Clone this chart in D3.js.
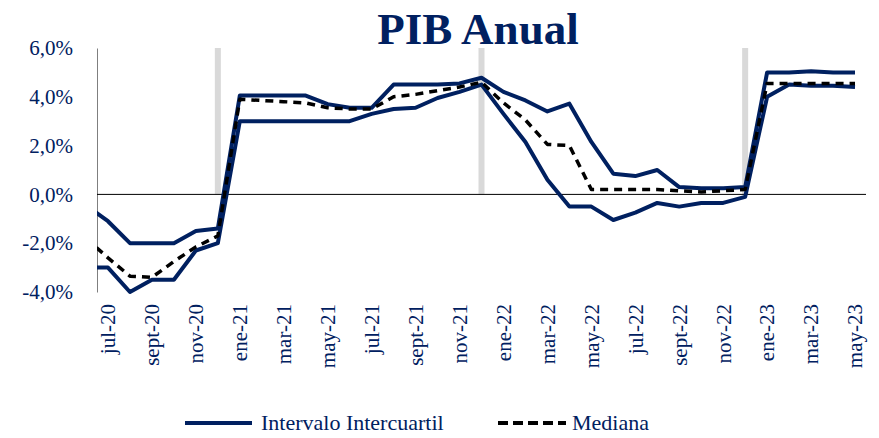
<!DOCTYPE html>
<html>
<head>
<meta charset="utf-8">
<script src="https://cdn.jsdelivr.net/npm/d3@7"></script>
<style>
  body { margin: 0; background: #fff; }
  svg { font-family: "Liberation Serif", "DejaVu Serif", serif; }
  .tick text { fill: #002060; }
</style>
</head>
<body>
<script>
// meses (jun-20 queda fuera del area, solo para el primer tramo recortado)
var months = ["jun-20","jul-20","ago-20","sept-20","oct-20","nov-20","dic-20",
  "ene-21","feb-21","mar-21","abr-21","may-21","jun-21","jul-21","ago-21","sept-21","oct-21","nov-21","dic-21",
  "ene-22","feb-22","mar-22","abr-22","may-22","jun-22","jul-22","ago-22","sept-22","oct-22","nov-22","dic-22",
  "ene-23","feb-23","mar-23","abr-23","may-23"];

var q3 = [-0.45,-1.1,-2.0,-2.0,-2.0,-1.5,-1.4,
  4.05,4.05,4.05,4.05,3.7,3.55,3.55,4.5,4.5,4.5,4.55,4.78,
  4.2,3.85,3.4,3.72,2.15,0.85,0.75,1.0,0.3,0.25,0.25,0.3,
  5.0,5.0,5.05,5.0,5.0];

var q1 = [-3.0,-3.0,-4.0,-3.5,-3.5,-2.3,-2.0,
  3.0,3.0,3.0,3.0,3.0,3.0,3.3,3.5,3.55,3.95,4.2,4.5,
  3.3,2.15,0.6,-0.5,-0.5,-1.05,-0.75,-0.35,-0.5,-0.35,-0.35,-0.1,
  4.0,4.5,4.45,4.45,4.4];

var mediana = [-1.8,-2.6,-3.35,-3.4,-2.75,-2.15,-1.7,
  3.9,3.85,3.8,3.75,3.55,3.5,3.5,4.0,4.1,4.25,4.4,4.6,
  3.75,3.05,2.05,2.0,0.2,0.2,0.2,0.2,0.15,0.1,0.15,0.2,
  4.55,4.55,4.55,4.55,4.55];

var marcas = ["dic-20","dic-21","dic-22"];
var yTicks = [-4, -2, 0, 2, 4, 6];
var xLabels = ["jul-20","sept-20","nov-20","ene-21","mar-21","may-21","jul-21","sept-21","nov-21",
  "ene-22","mar-22","may-22","jul-22","sept-22","nov-22","ene-23","mar-23","may-23"];

(function() {
var width = 879, height = 438;
var margin = {left: 97, right: 866, top: 48, bottom: 292};

var svg = d3.select("body").append("svg")
  .attr("width", width).attr("height", height);

var bw = (margin.right - margin.left) / (months.length - 1);
var x = d3.scaleBand()
  .domain(months)
  .range([margin.left - bw, margin.right]);

var cx = function(m) { return x(m) + x.bandwidth() / 2; };

var y = d3.scaleLinear()
  .domain([-4, 6])
  .range([margin.bottom, margin.top]);

svg.append("defs").append("clipPath").attr("id", "plot")
  .append("rect").attr("x", margin.left).attr("y", 0)
  .attr("width", margin.right - margin.left).attr("height", height);

// titulo
svg.append("text")
  .attr("x", 478).attr("y", 44)
  .attr("text-anchor", "middle")
  .style("font-size", "45px").style("font-weight", "bold")
  .style("fill", "#002060")
  .text("PIB Anual");

// barras grises
svg.selectAll(".marca").data(marcas)
  .enter().append("rect")
  .attr("class", "marca")
  .attr("x", function(d) { return cx(d) - 3; })
  .attr("y", y(6))
  .attr("width", 6)
  .attr("height", y(0) - y(6))
  .style("fill", "#d9d9d9");

// eje y
var yAxis = d3.axisLeft(y).tickValues(yTicks).tickSize(0).tickPadding(24)
  .tickFormat(function(d) { return (d < 0 ? "-" : "") + Math.abs(d).toFixed(1).replace(".", ",") + "%"; });
var gy = svg.append("g").attr("transform", "translate(" + margin.left + ",0)").call(yAxis)
  .attr("font-family", null).attr("font-size", null);
gy.select(".domain").attr("stroke", "#7f7f7f");
gy.selectAll("text").style("font-size", "21px");

// linea cero
svg.append("line")
  .attr("x1", margin.left).attr("x2", margin.right)
  .attr("y1", y(0)).attr("y2", y(0))
  .attr("stroke", "#000").attr("stroke-width", 1);

// eje x (solo etiquetas)
var xAxis = d3.axisBottom(x).tickValues(xLabels).tickSize(0);
var gx = svg.append("g").attr("transform", "translate(0," + (margin.bottom + 12) + ")").call(xAxis)
  .attr("font-family", null).attr("font-size", null);
gx.select(".domain").remove();
gx.selectAll("text")
  .style("font-size", "21px")
  .attr("transform", "rotate(-90)")
  .attr("text-anchor", "end")
  .attr("x", 0).attr("y", 0).attr("dy", "0.35em");

var line = function(vals) {
  return d3.line()
    .x(function(d, i) { return cx(months[i]); })
    .y(function(d) { return y(d); })(vals);
};

var plot = svg.append("g").attr("clip-path", "url(#plot)");

[q3, q1].forEach(function(s) {
  plot.append("path")
    .attr("d", line(s))
    .attr("fill", "none")
    .attr("stroke", "#002060")
    .attr("stroke-width", 4)
    .attr("stroke-linejoin", "round");
});

plot.append("path")
  .attr("d", line(mediana))
  .attr("fill", "none")
  .attr("stroke", "#000")
  .attr("stroke-width", 3.5)
  .attr("stroke-dasharray", "8,6")
  .attr("stroke-linejoin", "round");

// leyenda
var lg = svg.append("g");
lg.append("line").attr("x1", 185).attr("x2", 252).attr("y1", 423).attr("y2", 423)
  .attr("stroke", "#002060").attr("stroke-width", 4);
lg.append("text").attr("x", 261).attr("y", 430)
  .style("font-size", "22px").style("fill", "#002060")
  .text("Intervalo Intercuartil");
lg.append("line").attr("x1", 498).attr("x2", 566).attr("y1", 423).attr("y2", 423)
  .attr("stroke", "#000").attr("stroke-width", 4).attr("stroke-dasharray", "10,5");
lg.append("text").attr("x", 572).attr("y", 430)
  .style("font-size", "22px").style("fill", "#002060")
  .text("Mediana");
})();
</script>
</body>
</html>
